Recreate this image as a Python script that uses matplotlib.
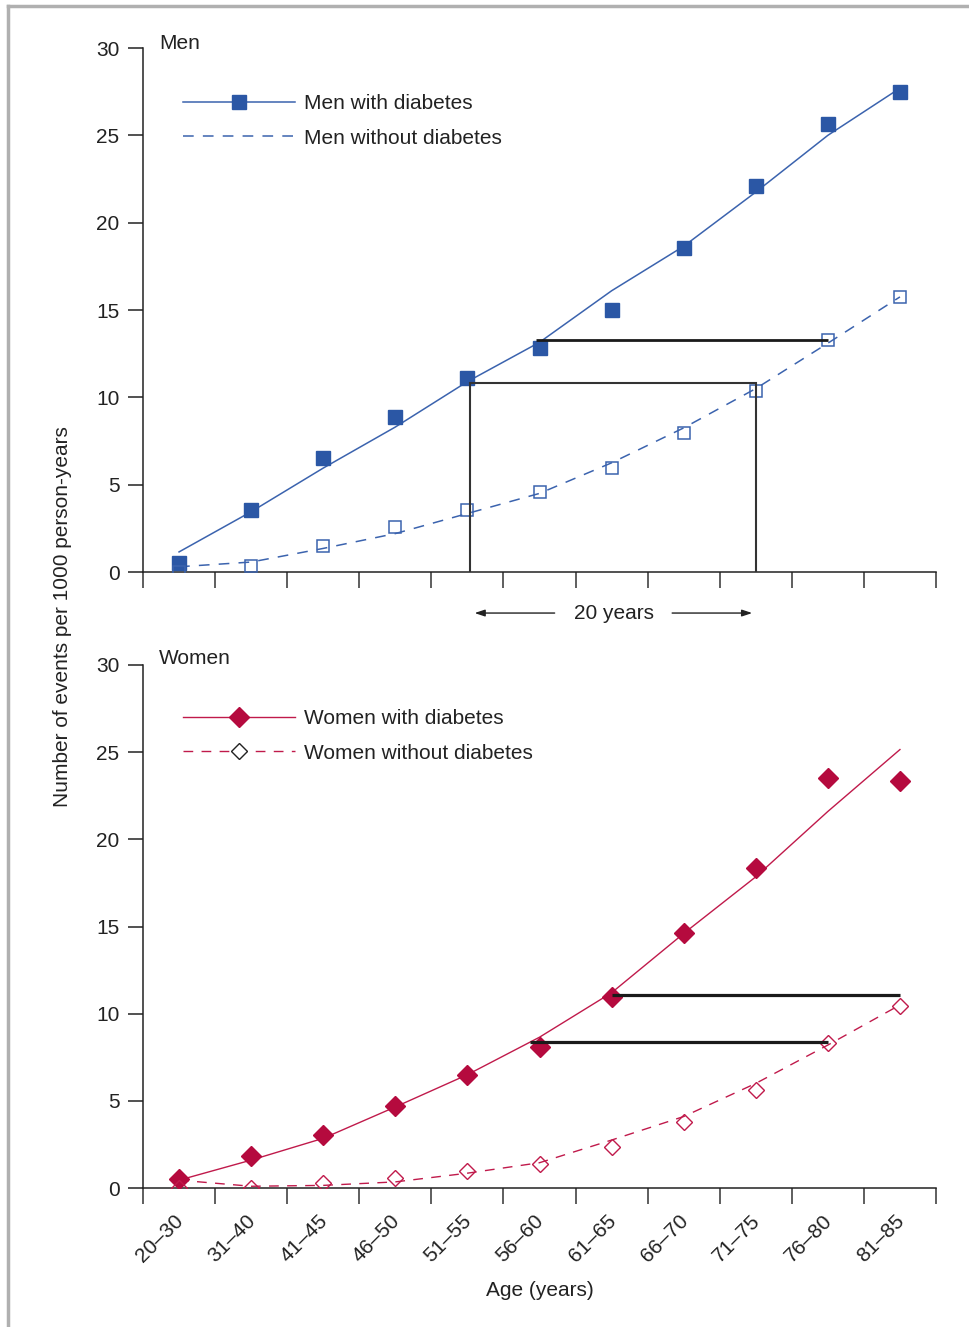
import matplotlib
matplotlib.use("Agg")
import matplotlib.pyplot as plt
from matplotlib.lines import Line2D
import matplotlib.transforms as mtransforms
import numpy as np

plt.rcParams['font.family'] = ['Liberation Sans', 'DejaVu Sans']

# ---------------- data ----------------
age_groups = ["20–30", "31–40", "41–45", "46–50", "51–55", "56–60",
              "61–65", "66–70", "71–75", "76–80", "81–85"]

men_with_obs = [0.5, 3.55, 6.5, 8.9, 11.1, 12.8, 15.0, 18.55, 22.1, 25.65, 27.5]
men_with_fit = [1.15, 3.45, 5.95, 8.3, 10.9, 13.15, 16.1, 18.65, 21.75, 25.0, 27.7]
men_without_obs = [0.0, 0.35, 1.5, 2.6, 3.55, 4.6, 5.95, 7.95, 10.35, 13.3, 15.75]
men_without_fit = [0.3, 0.57, 1.35, 2.2, 3.35, 4.5, 6.25, 8.25, 10.5, 13.1, 15.75]

women_with_obs = [0.5, 1.85, 3.05, 4.7, 6.5, 8.1, 10.95, 14.6, 18.35, 23.5, 23.35]
women_with_fit = [0.45, 1.6, 2.85, 4.65, 6.5, 8.65, 11.2, 14.6, 17.85, 21.6, 25.15]
women_without_obs = [0.0, 0.0, 0.3, 0.55, 1.0, 1.4, 2.35, 3.8, 5.6, 8.3, 10.45]
women_without_fit = [0.45, 0.1, 0.15, 0.35, 0.85, 1.45, 2.75, 4.1, 6.0, 8.2, 10.5]

# 20-year comparison lines: (x start, x end, y) in category units
men_gap_lines = [(5.45, 9.5, 13.3)]
men_box = (4.54, 8.5, 10.8)
women_gap_lines = [(6.5, 10.5, 11.05), (5.37, 9.5, 8.4)]

yticks = [0, 5, 10, 15, 20, 25, 30]

BLUE = "#2B57A5"
BLUE_LINE = "#3B63AE"
RED = "#B50A3E"
RED_LINE = "#C01A4B"
FS = 15

fig = plt.figure(figsize=(9.69, 13.27), dpi=100)
W, H = 969, 1327

def axes_rect(left_px, right_px, top_px, bottom_px):
    return [left_px / W, 1 - bottom_px / H, (right_px - left_px) / W, (bottom_px - top_px) / H]

ax1 = fig.add_axes(axes_rect(143, 936, 48, 572))
ax2 = fig.add_axes(axes_rect(143, 936, 665, 1188))

xc = np.arange(len(age_groups)) + 0.5

def style_axes(ax, show_labels):
    ax.set_xlim(0, len(age_groups))
    ax.set_ylim(0, 30)
    for s in ['top', 'right']:
        ax.spines[s].set_visible(False)
    for s in ['left', 'bottom']:
        ax.spines[s].set_linewidth(1.1)
        ax.spines[s].set_color("#222222")
    ax.set_yticks(yticks)
    ax.set_yticklabels([str(v) for v in yticks], fontsize=FS, color="#222222")
    ax.tick_params(axis='y', direction='out', length=11, width=1.1, pad=6, color="#222222")
    ax.set_xticks(np.arange(len(age_groups) + 1))
    ax.set_xticklabels([])
    ax.tick_params(axis='x', which='major', direction='out', length=11.5, width=1.1, color="#333333")
    if show_labels:
        ax.set_xticks(xc, minor=True)
        ax.set_xticklabels(age_groups, minor=True, rotation=45, ha='right', va='top',
                           fontsize=FS, color="#222222")
        ax.tick_params(axis='x', which='minor', length=0, pad=17)
        offset = mtransforms.ScaledTranslation(8 / 100, 0, fig.dpi_scale_trans)
        for lab in ax.get_xticklabels(minor=True):
            lab.set_transform(lab.get_transform() + offset)

style_axes(ax1, False)
style_axes(ax2, True)

# ---------------- Men ----------------
ax1.plot(xc, men_with_fit, color=BLUE_LINE, lw=1.1, zorder=3)
ax1.plot(xc, men_without_fit, color=BLUE_LINE, lw=1.1, dashes=(7, 6), zorder=3)
ax1.plot(xc, men_with_obs, ls='none', marker='s', ms=10.5, mfc=BLUE, mec=BLUE, zorder=4)
ax1.plot(xc, men_without_obs, ls='none', marker='s', ms=8.8, mfc='none', mec=BLUE_LINE,
         mew=1.1, zorder=4)

for x0, x1, y in men_gap_lines:
    ax1.plot([x0, x1], [y, y], color="#1a1a1a", lw=2.0, zorder=6, solid_capstyle='butt')
bx0, bx1, by = men_box
ax1.plot([bx0, bx0, bx1, bx1], [0, by, by, 0], color="#333333", lw=1.5, zorder=6,
         solid_joinstyle='miter')

# "20 years" annotation below the axis
ax1.text(6.53, -2.35, "20 years", ha='center', va='center', fontsize=FS, color="#222222",
         clip_on=False)
arrow_kw = dict(arrowstyle='-|>,head_length=0.6,head_width=0.2', color="#222222", lw=1.0,
                shrinkA=0, shrinkB=0)
ax1.annotate("", xy=(4.6, -2.35), xytext=(5.71, -2.35), arrowprops=arrow_kw,
             annotation_clip=False)
ax1.annotate("", xy=(8.45, -2.35), xytext=(7.34, -2.35), arrowprops=arrow_kw,
             annotation_clip=False)

ax1.text(0.02, 1.0095, "Men", transform=ax1.transAxes, ha='left', va='center',
         fontsize=FS, color="#222222")

h1 = Line2D([], [], color=BLUE_LINE, lw=1.1, marker='s', ms=10.5, mfc=BLUE, mec=BLUE)
h2 = Line2D([], [], color=BLUE_LINE, lw=1.1, dashes=(7, 6))
ax1.legend([h1, h2], ["Men with diabetes", "Men without diabetes"], loc='upper left',
           bbox_to_anchor=(0.0397, 0.928), frameon=False, fontsize=FS, handlelength=5.38,
           handletextpad=0.42, labelspacing=0.75, borderaxespad=0, labelcolor="#222222")

# ---------------- Women ----------------
ax2.plot(xc, women_with_fit, color=RED_LINE, lw=1.0, zorder=3)
ax2.plot(xc, women_without_fit, color=RED_LINE, lw=1.0, dashes=(7, 6), zorder=3)
ax2.plot(xc, women_with_obs, ls='none', marker='D', ms=10, mfc=RED, mec=RED, zorder=4)
ax2.plot(xc, women_without_obs, ls='none', marker='D', ms=8, mfc='none', mec=RED_LINE,
         mew=1.0, zorder=4)

for x0, x1, y in women_gap_lines:
    ax2.plot([x0, x1], [y, y], color="#1a1a1a", lw=2.3, zorder=6, solid_capstyle='butt')

ax2.text(0.02, 1.013, "Women", transform=ax2.transAxes, ha='left', va='center',
         fontsize=FS, color="#222222")

h3 = Line2D([], [], color=RED_LINE, lw=1.0, marker='D', ms=10, mfc=RED, mec=RED)
h4 = Line2D([], [], color=RED_LINE, lw=1.0, dashes=(7, 6), marker='D', ms=8,
            mfc='white', mec='#222222', mew=1.0)
ax2.legend([h3, h4], ["Women with diabetes", "Women without diabetes"], loc='upper left',
           bbox_to_anchor=(0.0397, 0.932), frameon=False, fontsize=FS, handlelength=5.38,
           handletextpad=0.42, labelspacing=0.75, borderaxespad=0, labelcolor="#222222")

# axis titles
fig.text(63 / W, 1 - 617 / H, "Number of events per 1000 person-years", rotation=90,
         ha='center', va='center', fontsize=FS, color="#222222")
fig.text(540 / W, 1 - 1290 / H, "Age (years)", ha='center', va='center', fontsize=FS,
         color="#222222")

# gray frame (top and left)
fig.add_artist(Line2D([8 / W, 1], [1 - 6 / H, 1 - 6 / H], color="#b0b0b0", lw=2.5,
                      transform=fig.transFigure))
fig.add_artist(Line2D([8 / W, 8 / W], [0, 1 - 6 / H], color="#b0b0b0", lw=2.5,
                      transform=fig.transFigure))

fig.savefig("out.png", dpi=100, facecolor='white')
